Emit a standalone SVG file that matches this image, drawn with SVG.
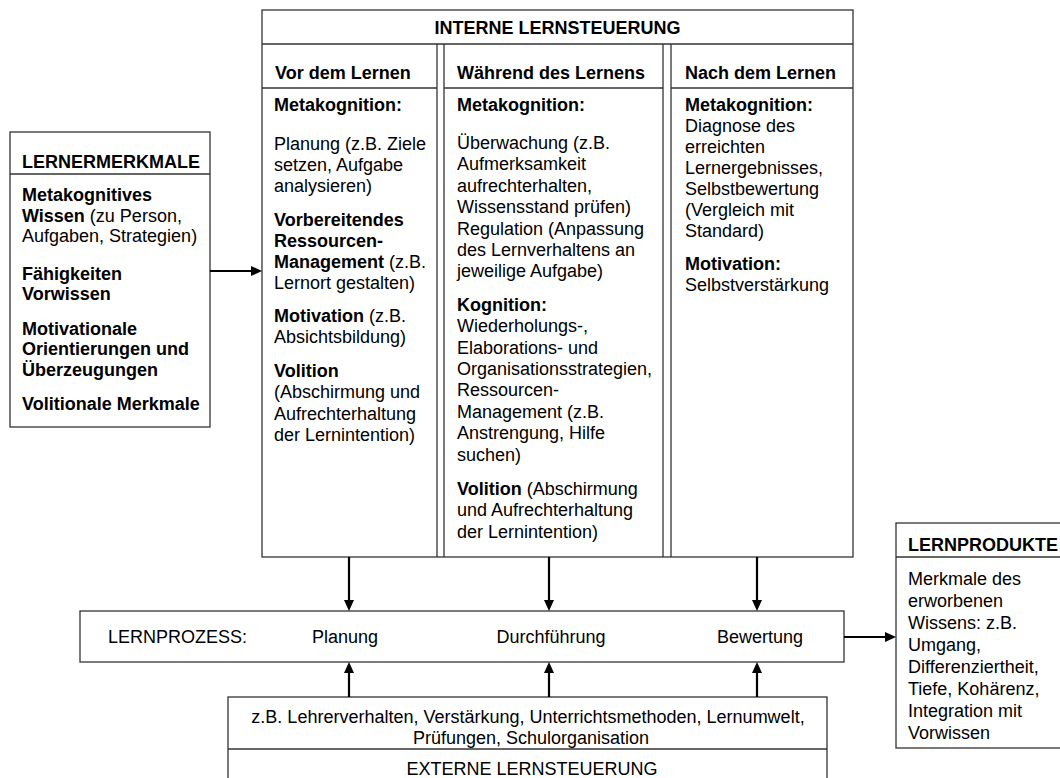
<svg xmlns="http://www.w3.org/2000/svg" width="1060" height="778" viewBox="0 0 1060 778">
<style>
.t{font-family:"Liberation Sans",Arial,sans-serif;font-size:18px;fill:#000}
.b{font-weight:bold}
.m{text-anchor:middle}
.box{fill:#fff;stroke:#333;stroke-width:1.3}
.ln{stroke:#333;stroke-width:1.3;fill:none}
.arr{stroke:#000;stroke-width:2.2;fill:none;marker-end:url(#ah)}
</style>
<defs>
<marker id="ah" markerUnits="userSpaceOnUse" markerWidth="12" markerHeight="10" refX="1" refY="5" orient="auto">
<path d="M0,0 L11,5 L0,10 z" fill="#000"/>
</marker>
</defs>
<rect width="1060" height="778" fill="#fff"/>

<g id="lernermerkmale">
<rect class="box" x="10" y="132" width="200" height="295"/>
<line class="ln" x1="10" y1="174" x2="210" y2="174"/>
<text class="t b" x="22" y="168">LERNERMERKMALE</text>
<text class="t b" x="22" y="201">Metakognitives</text>
<text class="t" x="22" y="222"><tspan class="b">Wissen</tspan> (zu Person,</text>
<text class="t" x="22" y="242">Aufgaben, Strategien)</text>
<text class="t b" x="22" y="280">Fähigkeiten</text>
<text class="t b" x="22" y="300">Vorwissen</text>
<text class="t b" x="22" y="335">Motivationale</text>
<text class="t b" x="22" y="355">Orientierungen und</text>
<text class="t b" x="22" y="376">Überzeugungen</text>
<text class="t b" x="22" y="410">Volitionale Merkmale</text>
</g>

<g id="interne-lernsteuerung">
<rect class="box" x="262" y="10" width="591" height="547"/>
<line class="ln" x1="262" y1="44" x2="853" y2="44"/>
<line class="ln" x1="437" y1="44" x2="437" y2="557"/>
<line class="ln" x1="444" y1="44" x2="444" y2="557"/>
<line class="ln" x1="663" y1="44" x2="663" y2="557"/>
<line class="ln" x1="671" y1="44" x2="671" y2="557"/>
<line class="ln" x1="262" y1="88" x2="437" y2="88"/>
<line class="ln" x1="444" y1="88" x2="663" y2="88"/>
<line class="ln" x1="671" y1="88" x2="853" y2="88"/>
<text class="t b m" x="557.5" y="34">INTERNE LERNSTEUERUNG</text>
</g>

<g id="vor-dem-lernen">
<text class="t b" x="275" y="79">Vor dem Lernen</text>
<text class="t b" x="274" y="111">Metakognition:</text>
<text class="t" x="274" y="150">Planung (z.B. Ziele</text>
<text class="t" x="274" y="171">setzen, Aufgabe</text>
<text class="t" x="274" y="192">analysieren)</text>
<text class="t b" x="274" y="226">Vorbereitendes</text>
<text class="t b" x="274" y="247">Ressourcen-</text>
<text class="t" x="274" y="268"><tspan class="b">Management</tspan> (z.B.</text>
<text class="t" x="274" y="289">Lernort gestalten)</text>
<text class="t" x="274" y="322"><tspan class="b">Motivation</tspan> (z.B.</text>
<text class="t" x="274" y="343">Absichtsbildung)</text>
<text class="t b" x="274" y="377">Volition</text>
<text class="t" x="274" y="398">(Abschirmung und</text>
<text class="t" x="274" y="420">Aufrechterhaltung</text>
<text class="t" x="274" y="441">der Lernintention)</text>
</g>

<g id="waehrend-des-lernens">
<text class="t b" x="457" y="79">Während des Lernens</text>
<text class="t b" x="457" y="111">Metakognition:</text>
<text class="t" x="457" y="149">Überwachung (z.B.</text>
<text class="t" x="457" y="170">Aufmerksamkeit</text>
<text class="t" x="457" y="192">aufrechterhalten,</text>
<text class="t" x="457" y="213">Wissensstand prüfen)</text>
<text class="t" x="457" y="235">Regulation (Anpassung</text>
<text class="t" x="457" y="256">des Lernverhaltens an</text>
<text class="t" x="457" y="277">jeweilige Aufgabe)</text>
<text class="t b" x="457" y="311">Kognition:</text>
<text class="t" x="457" y="332">Wiederholungs-,</text>
<text class="t" x="457" y="354">Elaborations- und</text>
<text class="t" x="457" y="375">Organisationsstrategien,</text>
<text class="t" x="457" y="396">Ressourcen-</text>
<text class="t" x="457" y="418">Management (z.B.</text>
<text class="t" x="457" y="439">Anstrengung, Hilfe</text>
<text class="t" x="457" y="461">suchen)</text>
<text class="t" x="457" y="495"><tspan class="b">Volition</tspan> (Abschirmung</text>
<text class="t" x="457" y="516">und Aufrechterhaltung</text>
<text class="t" x="457" y="538">der Lernintention)</text>
</g>

<g id="nach-dem-lernen">
<text class="t b" x="685" y="79">Nach dem Lernen</text>
<text class="t b" x="685" y="111">Metakognition:</text>
<text class="t" x="685" y="132">Diagnose des</text>
<text class="t" x="685" y="153">erreichten</text>
<text class="t" x="685" y="174">Lernergebnisses,</text>
<text class="t" x="685" y="195">Selbstbewertung</text>
<text class="t" x="685" y="216">(Vergleich mit</text>
<text class="t" x="685" y="237">Standard)</text>
<text class="t b" x="685" y="270">Motivation:</text>
<text class="t" x="685" y="291">Selbstverstärkung</text>
</g>

<g id="lernprozess">
<rect class="box" x="80" y="611" width="764" height="51"/>
<text class="t" x="108" y="643">LERNPROZESS:</text>
<text class="t m" x="345" y="643">Planung</text>
<text class="t m" x="551" y="643">Durchführung</text>
<text class="t m" x="760" y="643">Bewertung</text>
</g>

<g id="externe-lernsteuerung">
<rect class="box" x="228" y="697" width="599" height="100"/>
<line class="ln" x1="228" y1="749" x2="827" y2="749"/>
<text class="t m" x="528" y="723">z.B. Lehrerverhalten, Verstärkung, Unterrichtsmethoden, Lernumwelt,</text>
<text class="t m" x="531" y="744">Prüfungen, Schulorganisation</text>
<text class="t m" x="532" y="775">EXTERNE LERNSTEUERUNG</text>
</g>

<g id="lernprodukte">
<rect class="box" x="896" y="523" width="200" height="225"/>
<line class="ln" x1="896" y1="557" x2="1060" y2="557"/>
<text class="t b" x="908" y="551">LERNPRODUKTE</text>
<text class="t" x="908" y="585">Merkmale des</text>
<text class="t" x="908" y="607">erworbenen</text>
<text class="t" x="908" y="629">Wissens: z.B.</text>
<text class="t" x="908" y="651">Umgang,</text>
<text class="t" x="908" y="673">Differenziertheit,</text>
<text class="t" x="908" y="695">Tiefe, Kohärenz,</text>
<text class="t" x="908" y="717">Integration mit</text>
<text class="t" x="908" y="739">Vorwissen</text>
</g>

<g id="connectors">
<line class="arr" x1="210" y1="271" x2="252" y2="271"/>
<line class="arr" x1="349" y1="557" x2="349" y2="601"/>
<line class="arr" x1="549" y1="557" x2="549" y2="601"/>
<line class="arr" x1="757" y1="557" x2="757" y2="601"/>
<line class="arr" x1="349" y1="697" x2="349" y2="672"/>
<line class="arr" x1="549" y1="697" x2="549" y2="672"/>
<line class="arr" x1="757" y1="697" x2="757" y2="672"/>
<line class="arr" x1="844" y1="637" x2="886" y2="637"/>
</g>
</svg>
